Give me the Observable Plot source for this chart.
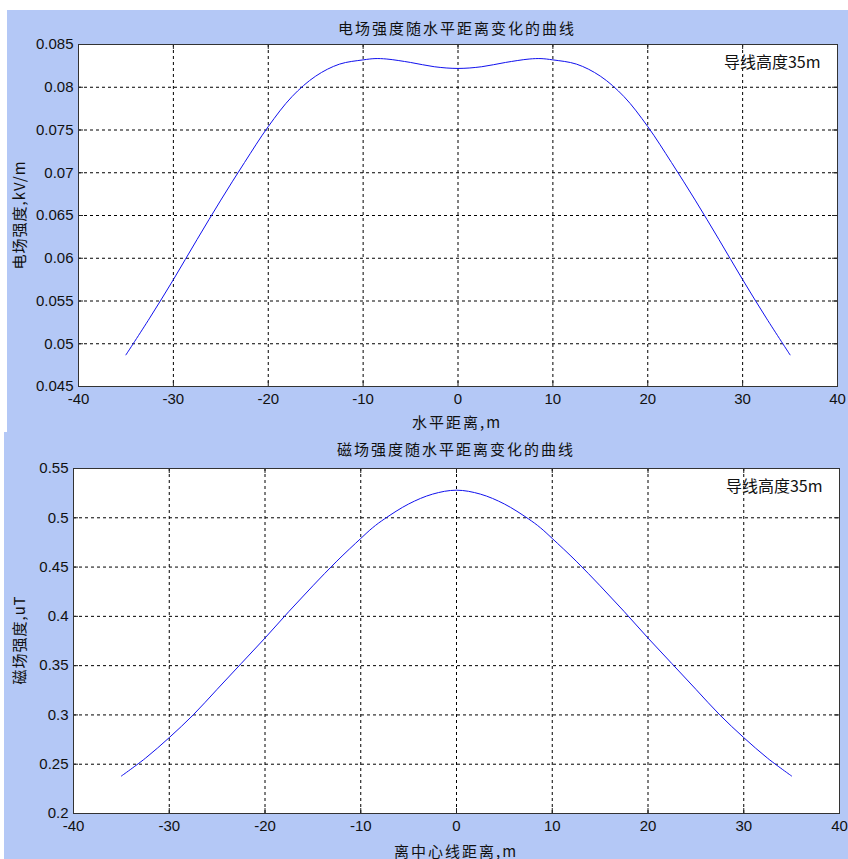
<!DOCTYPE html>
<html><head><meta charset="utf-8">
<script src="https://cdn.jsdelivr.net/npm/d3@7"></script>
<script src="https://cdn.jsdelivr.net/npm/@observablehq/plot@0.6"></script>
<style>
body{margin:0;background:#fff;}
#wrap{position:relative;width:848px;height:859px;overflow:hidden;}
.panel{position:absolute;background:#b4c8f6;}
.lbl{position:absolute;font-family:"Noto Sans CJK SC",sans-serif;font-size:15px;color:#111;white-space:nowrap;transform:translate(-50%,-50%);letter-spacing:2px;}
.ylbl{transform:translate(-50%,-50%) rotate(-90deg);letter-spacing:1px;}
svg{position:absolute;left:0;}
</style></head><body><div id="wrap">
<div class="panel" style="left:7px;top:10px;width:841px;height:422px"></div>
<div class="panel" style="left:4px;top:432px;width:844px;height:427px"></div>
</div>
<script>
// horizontal distance (m)
const xDist = [-35,-32.5,-30,-27.5,-25,-22.5,-20,-17.5,-15,-12.5,-10,-8.75,-7.5,-5,-2.5,0,2.5,5,7.5,8.75,10,12.5,15,17.5,20,22.5,25,27.5,30,32.5,35];
// electric field strength (kV/m)
const eField = [0.0487,0.0530,0.0575,0.0622,0.0668,0.0712,0.0754,0.0789,0.0813,0.0827,0.0832,0.08335,0.0833,0.0829,0.0824,0.0822,0.0824,0.0829,0.0833,0.08335,0.0832,0.0827,0.0813,0.0789,0.0754,0.0712,0.0668,0.0622,0.0575,0.0530,0.0487];
// magnetic field strength (uT)
const bField = [0.238,0.256,0.277,0.300,0.326,0.352,0.378,0.405,0.431,0.456,0.479,0.490,0.499,0.514,0.524,0.528,0.524,0.514,0.499,0.490,0.479,0.456,0.431,0.405,0.378,0.352,0.326,0.300,0.277,0.256,0.238];
const xTicks = [-40,-30,-20,-10,0,10,20,30,40];
const eTicks = [0.045,0.05,0.055,0.06,0.065,0.07,0.075,0.08,0.085];
const bTicks = [0.2,0.25,0.3,0.35,0.4,0.45,0.5,0.55];
const titles = ["电场强度随水平距离变化的曲线","磁场强度随水平距离变化的曲线"];
const xLabels = ["水平距离,m","离中心线距离,m"];
const yLabels = ["电场强度,kV/m","磁场强度,uT"];
const note = "导线高度35m";

function chart(vals, yTicks, o) {
  const yDom = [yTicks[0], yTicks[yTicks.length-1]];
  const xDom = [xTicks[0], xTicks[xTicks.length-1]];
  const data = xDist.map((x,i)=>({x, v: vals[i]}));
  const grid = {stroke:"#000", strokeOpacity:1, strokeWidth:1, strokeDasharray:"3,3"};
  const tk = {stroke:"#222", strokeOpacity:1};
  return Plot.plot({
    width: 848, height: o.height,
    marginLeft: o.ml, marginRight: o.mr, marginTop: o.mt, marginBottom: o.mb,
    style: {background:"transparent", fontFamily:"'Liberation Sans Narrow','Liberation Sans',Arial,sans-serif", fontSize:"15px", color:"#111", overflow:"visible"},
    x: {domain: xDom, ticks: xTicks, tickFormat: d=>String(d), tickSize: 0, tickPadding: 7, label: null},
    y: {domain: yDom, ticks: yTicks, tickFormat: d=>String(+d.toFixed(3)), tickSize: 0, tickPadding: 5, label: null},
    marks: [
      Plot.frame({fill:"white"}),
      Plot.ruleX(xTicks.slice(1,-1), {x:d=>d, ...grid}),
      Plot.ruleY(yTicks.slice(1,-1), {y:d=>d, ...grid}),
      Plot.ruleX(xTicks, {x:d=>d, y1:()=>yDom[0], y2:()=>yDom[0], insetBottom:5, ...tk}),
      Plot.ruleX(xTicks, {x:d=>d, y1:()=>yDom[1], y2:()=>yDom[1], insetTop:5, ...tk}),
      Plot.ruleY(yTicks, {y:d=>d, x1:()=>xDom[0], x2:()=>xDom[0], insetLeft:5, ...tk}),
      Plot.ruleY(yTicks, {y:d=>d, x1:()=>xDom[1], x2:()=>xDom[1], insetRight:5, ...tk}),
      Plot.line(data, {x:"x", y:"v", stroke:"#1010ee", strokeWidth:1, curve:"catmull-rom"}),
      Plot.frame({stroke:"#333", strokeWidth:1}),
      Plot.text([note], {frameAnchor:"top-right", textAnchor:"end", lineAnchor:"middle", dx:-17, dy:18, fontSize:16, fill:"#111", fontFamily:"'Noto Sans CJK SC',sans-serif", letterSpacing:"1px"})
    ]
  });
}

const wrap = document.getElementById("wrap");
const s1 = chart(eField, eTicks, {height:432, ml:78, mr:11, mt:44, mb:46});
s1.style.top = "0px";
wrap.appendChild(s1);
const s2 = chart(bField, bTicks, {height:427, ml:73, mr:9, mt:36, mb:46});
s2.style.top = "432px";
wrap.appendChild(s2);

function lbl(text, x, y, cls) {
  const d = document.createElement("div");
  d.className = "lbl" + (cls ? " " + cls : "");
  d.textContent = text;
  d.style.left = x + "px"; d.style.top = y + "px";
  wrap.appendChild(d);
}
lbl(titles[0], 457, 27);
lbl(titles[1], 456, 448);
lbl(xLabels[0], 457, 421);
lbl(xLabels[1], 456, 850);
lbl(yLabels[0], 18, 215, "ylbl");
lbl(yLabels[1], 18, 640, "ylbl");
</script></body></html>
